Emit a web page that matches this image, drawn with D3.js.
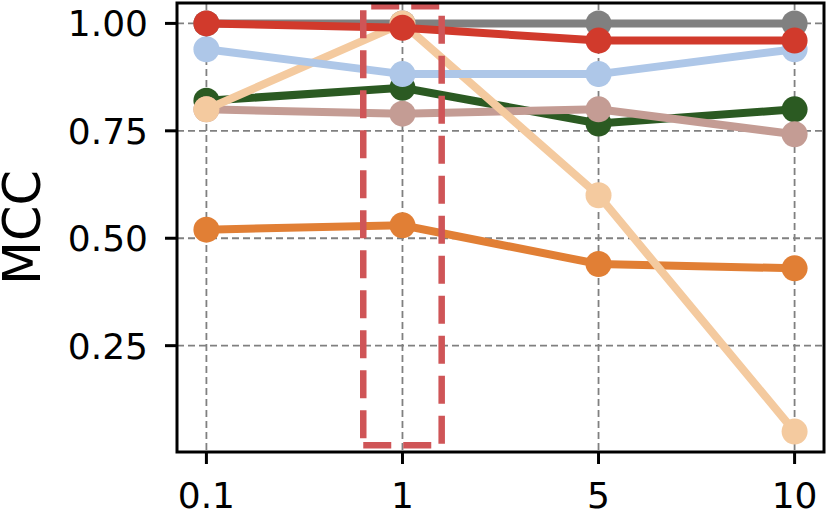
<!DOCTYPE html>
<html>
<head>
<meta charset="utf-8">
<script src="https://cdn.jsdelivr.net/npm/d3@7"></script>
<style>
  body { margin: 0; background: #fff; }
  svg text { font-family: "DejaVu Sans", sans-serif; fill: #000; }
</style>
</head>
<body>
<svg id="chart" width="830" height="510"></svg>
<script>
// x categories and y ticks
var categories = ['0.1', '1', '5', '10'];
var yTicks = [0.25, 0.50, 0.75, 1.00];

// series, in drawing order (back to front)
var grayVals   = [1.00, 1.00, 1.00, 1.00];
var orangeVals = [0.52, 0.53, 0.44, 0.43];
var greenVals  = [0.82, 0.85, 0.767, 0.80];
var rosyVals   = [0.80, 0.79, 0.80, 0.742];
var peachVals  = [0.80, 1.00, 0.60, 0.05];
var blueVals   = [0.94, 0.882, 0.882, 0.94];
var redVals    = [1.00, 0.99, 0.96, 0.96];

var seriesColors = ['#808080', '#e17f35', '#2b5a22', '#c49c94', '#f4ca9f', '#aec7e8', '#d13a2c'];
var seriesVals = [grayVals, orangeVals, greenVals, rosyVals, peachVals, blueVals, redVals];

// highlighted box around "1"
var boxX = [0.8, 1.2];
var boxY = [0.018, 1.04];

var plotL = 177, plotR = 824, plotT = 3, plotB = 452;

var svg = d3.select('#chart');

var x = d3.scaleLinear().domain([-0.15, 3.15]).range([plotL, plotR]);
var y = d3.scaleLinear().domain([0.0025, 1.0475]).range([plotB, plotT]);

// grid
var grid = svg.append('g');
grid.selectAll('.hg').data(yTicks).enter().append('line')
	.attr('x1', plotL).attr('x2', plotR)
	.attr('y1', d => y(d)).attr('y2', d => y(d))
	.attr('stroke', '#808080').attr('stroke-width', 1.8)
	.attr('stroke-dasharray', '7,4');
grid.selectAll('.vg').data(categories).enter().append('line')
	.attr('x1', (d, i) => x(i)).attr('x2', (d, i) => x(i))
	.attr('y1', plotT).attr('y2', plotB)
	.attr('stroke', '#808080').attr('stroke-width', 1.8)
	.attr('stroke-dasharray', '7,4');

// lines + markers
var line = d3.line().x((d, i) => x(i)).y(d => y(d));
var plot = svg.append('g');
seriesVals.forEach(function (vals, s) {
	var g = plot.append('g');
	g.append('path')
		.attr('d', line(vals))
		.attr('fill', 'none')
		.attr('stroke', seriesColors[s])
		.attr('stroke-width', 8);
	g.selectAll('circle').data(vals).enter().append('circle')
		.attr('cx', (d, i) => x(i))
		.attr('cy', d => y(d))
		.attr('r', 13)
		.attr('fill', seriesColors[s]);
});

// dashed highlight box, traced from bottom-left counter-clockwise
var bx0 = x(boxX[0]), bx1 = x(boxX[1]), by0 = y(boxY[0]), by1 = y(boxY[1]);
var boxPath = d3.path();
boxPath.moveTo(bx0, by0);
boxPath.lineTo(bx1, by0);
boxPath.lineTo(bx1, by1);
boxPath.lineTo(bx0, by1);
boxPath.closePath();
svg.append('path')
	.attr('d', boxPath.toString())
	.attr('fill', 'none')
	.attr('stroke', '#cf5557')
	.attr('stroke-width', 6.5)
	.attr('stroke-dasharray', '28,12');

// frame
svg.append('rect')
	.attr('x', plotL).attr('y', plotT)
	.attr('width', plotR - plotL).attr('height', plotB - plotT)
	.attr('fill', 'none').attr('stroke', '#000').attr('stroke-width', 3);

// y axis ticks
var yAx = svg.append('g');
yAx.selectAll('line').data(yTicks).enter().append('line')
	.attr('x1', plotL - 12).attr('x2', plotL)
	.attr('y1', d => y(d)).attr('y2', d => y(d))
	.attr('stroke', '#000').attr('stroke-width', 3);
yAx.selectAll('text').data(yTicks).enter().append('text')
	.attr('x', plotL - 29)
	.attr('y', d => y(d))
	.attr('dy', '0.36em')
	.attr('text-anchor', 'end')
	.style('font-size', '36px')
	.text(d => d3.format('.2f')(d));

// x axis ticks
var xAx = svg.append('g');
xAx.selectAll('line').data(categories).enter().append('line')
	.attr('x1', (d, i) => x(i)).attr('x2', (d, i) => x(i))
	.attr('y1', plotB).attr('y2', plotB + 12)
	.attr('stroke', '#000').attr('stroke-width', 3);
xAx.selectAll('text').data(categories).enter().append('text')
	.attr('x', (d, i) => x(i))
	.attr('y', 508)
	.attr('text-anchor', 'middle')
	.style('font-size', '36px')
	.text(d => d);

// y label
svg.append('text')
	.attr('transform', 'rotate(-90)')
	.attr('x', -(plotT + plotB) / 2)
	.attr('y', 40)
	.attr('text-anchor', 'middle')
	.style('font-size', '51px')
	.text('MCC');
</script>
</body>
</html>
